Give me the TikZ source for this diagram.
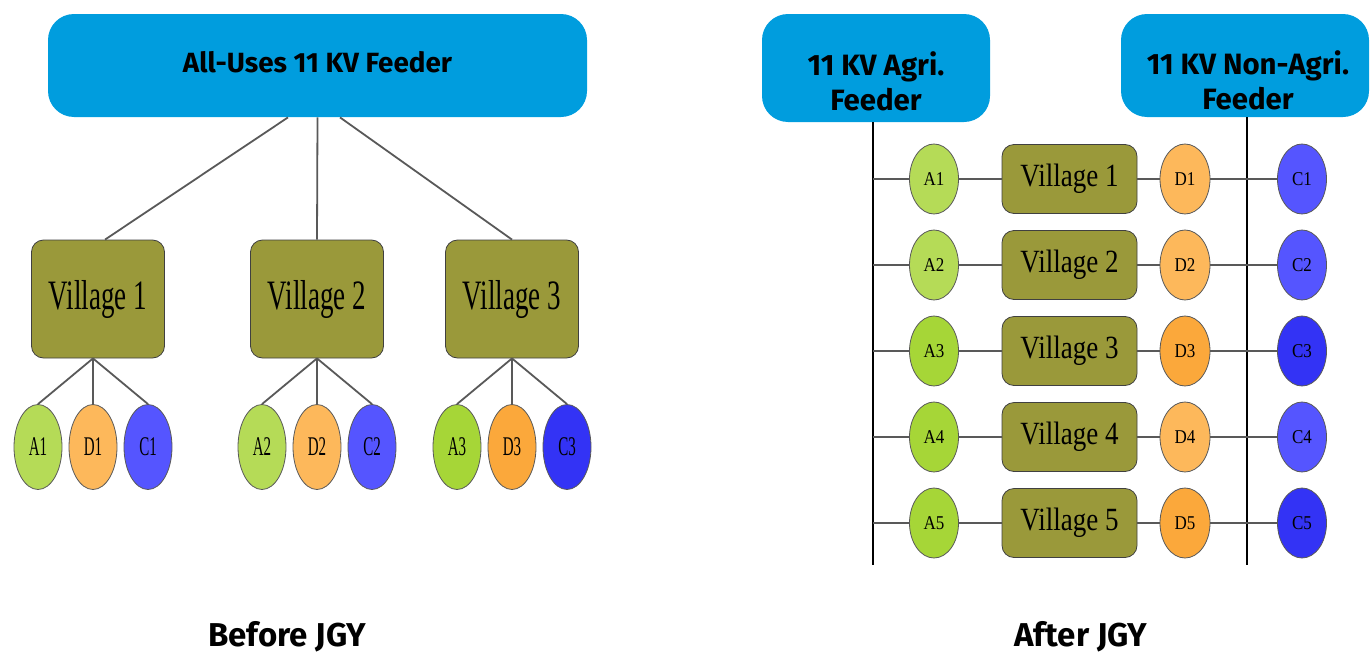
\documentclass[tikz,border=0pt]{standalone}
\usepackage{graphicx}
\usepackage{fontspec}
\setmainfont{Liberation Serif}
\newfontfamily\headfont{Fira Sans}
\usetikzlibrary{shapes.geometric}

\definecolor{feedblue}{HTML}{009DDE}
\definecolor{villolive}{HTML}{9A993A}
\definecolor{agrlite}{HTML}{B5DB57}
\definecolor{agrmid}{HTML}{A6D637}
\definecolor{dsllite}{HTML}{FDB85B}
\definecolor{dslmid}{HTML}{FBA83B}
\definecolor{comlite}{HTML}{5555FF}
\definecolor{comdark}{HTML}{3333F5}

% village and load labels (the serif text is drawn tall)
\newcommand{\bigvill}[1]{\scalebox{1}[1.55]{\fontsize{13.5}{14}\selectfont #1}}
\newcommand{\smallvill}[1]{\raisebox{0pt}{\scalebox{1}[1.2]{\fontsize{13.5}{14}\selectfont #1}}}
\newcommand{\bigload}[1]{\scalebox{1}[1.8]{\fontsize{7.5}{8}\selectfont #1}}
\newcommand{\smallload}[1]{\scalebox{1}[1.15]{\fontsize{8.5}{9}\selectfont #1}}

\tikzset{
  feeder/.style={fill=feedblue, rounded corners=13pt, inner sep=0pt},
  feedtext/.style={font=\headfont\bfseries\fontsize{13.9}{17.5}\selectfont, align=center},
  subtext/.style={font=\headfont\bfseries\fontsize{14.7}{17.5}\selectfont, align=center},
  village/.style={draw=black!75, fill=villolive, rounded corners=6pt, inner sep=0pt},
  load/.style={ellipse, draw=black!65, inner sep=0pt},
  wire/.style={draw=black!65, line width=0.9pt},
  bus/.style={draw=black, line width=1pt}
}

\begin{document}
\begin{tikzpicture}[x=0.5pt, y=-0.5pt]

  \useasboundingbox (0,0) rectangle (1370,653);

  % ---- before JGY: one feeder for all uses
  \node[feeder, minimum width=269.5pt, minimum height=51.5pt,
        label={[feedtext, yshift=1.75pt]center:All-Uses 11 KV Feeder}] (fdrall) at (317.5,65.5) {};

  \foreach \i/\vx/\gx/\ac/\dc/\cc in {1/98/93/agrlite/dsllite/comlite,
                                     2/317/317/agrlite/dsllite/comlite,
                                     3/512/512/agrmid/dslmid/comdark} {
    \node[village, minimum width=66.5pt, minimum height=59pt] (v\i) at (\vx,299) {\bigvill{Village \i}};
    \node[load, fill=\ac, minimum width=24pt, minimum height=42.5pt] (a\i) at (\gx-55,447) {\bigload{A\i}};
    \node[load, fill=\dc, minimum width=24pt, minimum height=42.5pt] (d\i) at (\gx,447) {\bigload{D\i}};
    \node[load, fill=\cc, minimum width=24pt, minimum height=42.5pt] (c\i) at (\gx+55,447) {\bigload{C\i}};
    \draw[wire] (d\i.north |- v\i.south) -- (a\i.north);
    \draw[wire] (d\i.north |- v\i.south) -- (d\i.north);
    \draw[wire] (d\i.north |- v\i.south) -- (c\i.north);
  }

  % feeder to villages
  \draw[wire] ([xshift=-14.75pt]fdrall.south) -- ([xshift=3.5pt]v1.north);
  \draw[wire] (fdrall.south) -- (v2.north);
  \draw[wire] ([xshift=11.25pt]fdrall.south) -- (v3.north);

  \node[font=\headfont\bfseries\fontsize{16.5}{18}\selectfont] (before) at (287,637) {Before JGY};

  % ---- after JGY: separate agri and non-agri feeders
  \node[feeder, minimum width=114pt, minimum height=54pt,
        label={[subtext, yshift=-6.5pt]center:11 KV Agri.\\Feeder}] (fagri) at (876,68) {};
  \node[feeder, minimum width=124pt, minimum height=51.5pt,
        label={[subtext, xshift=1.5pt, yshift=-7.5pt]center:11 KV Non-Agri.\\Feeder}] (fnon) at (1245,65.5) {};

  \coordinate (agribot) at (873,565);
  \coordinate (nonbot) at (1247,565);
  \draw[bus] (fagri.south -| agribot) -- (agribot);
  \draw[bus] (fnon.south -| nonbot) -- (nonbot);

  \foreach \i/\ac/\dc/\cc in {1/agrlite/dsllite/comlite, 2/agrlite/dsllite/comlite,
                              3/agrmid/dslmid/comdark, 4/agrmid/dsllite/comlite,
                              5/agrmid/dslmid/comdark} {
    \pgfmathsetmacro{\ry}{179+86*(\i-1)}
    \node[load, fill=\ac, minimum width=24.5pt, minimum height=35pt] (ra\i) at (934,\ry) {\smallload{A\i}};
    \node[village, minimum width=67.5pt, minimum height=34.5pt] (rv\i) at (1069.5,\ry) {\smallvill{Village \i}};
    \node[load, fill=\dc, minimum width=25pt, minimum height=35pt] (rd\i) at (1185,\ry) {\smallload{D\i}};
    \node[load, fill=\cc, minimum width=24.5pt, minimum height=35pt] (rc\i) at (1302,\ry) {\smallload{C\i}};
    \draw[wire] (ra\i.west -| agribot) -- (ra\i.west);
    \draw[wire] (ra\i) -- (rv\i);
    \draw[wire] (rv\i) -- (rd\i);
    \draw[wire] (rd\i) -- (rc\i);
  }

  \node[font=\headfont\bfseries\fontsize{16.5}{18}\selectfont] (after) at (1081,637) {After JGY};

\end{tikzpicture}
\end{document}
